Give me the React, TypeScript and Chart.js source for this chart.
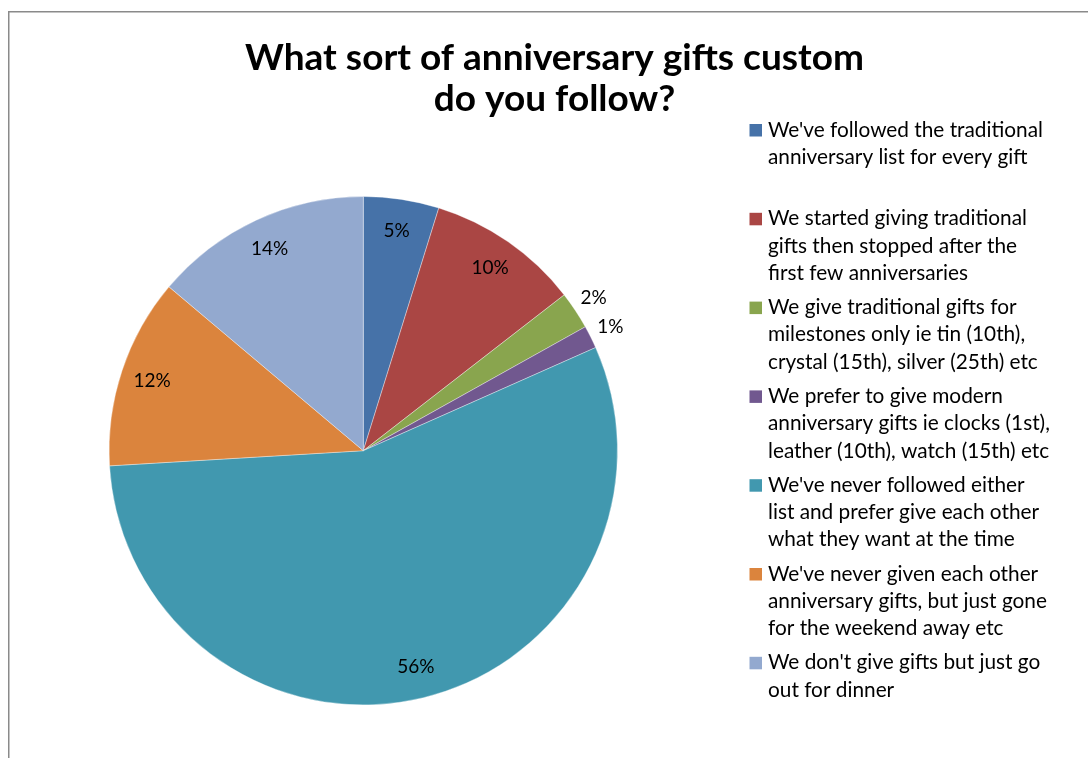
import React, { useEffect, useRef } from "react";
import { Chart, registerables } from "chart.js";

Chart.register(...registerables);

const titleLines = ["What sort of anniversary gifts custom", "do you follow?"];

const categories = [
  "We've followed the traditional\nanniversary list for every gift",
  "We started giving traditional\ngifts then stopped after the\nfirst few anniversaries",
  "We give traditional gifts for\nmilestones only ie tin (10th),\ncrystal (15th), silver (25th) etc",
  "We prefer to give modern\nanniversary gifts ie clocks (1st),\nleather (10th), watch (15th) etc",
  "We've never followed either\nlist and prefer give each other\nwhat they want at the time",
  "We've never given each other\nanniversary gifts, but just gone\nfor the weekend away etc",
  "We don't give gifts but just go\nout for dinner",
];

const shares = [4.8, 9.7, 2.4, 1.45, 55.7, 12.1, 13.85];

const sliceColors = [
  "#4672A8",
  "#AA4644",
  "#89A54E",
  "#71588F",
  "#4198AF",
  "#DB843D",
  "#93A9CF",
];

const FONT = "Lato, 'Open Sans', sans-serif";

const decorPlugin = {
  id: "decor",
  beforeDraw(chart: any) {
    const ctx = chart.ctx;
    ctx.save();
    ctx.fillStyle = "#ffffff";
    ctx.fillRect(0, 0, chart.width, chart.height);
    ctx.strokeStyle = "#8a8a8a";
    ctx.lineWidth = 1.5;
    ctx.strokeRect(8.75, 11.75, 3000, 3000);
    ctx.restore();
  },
  afterDraw(chart: any) {
    const ctx = chart.ctx;
    ctx.save();
    // title
    ctx.fillStyle = "#000";
    ctx.textAlign = "center";
    ctx.textBaseline = "alphabetic";
    ctx.font = `bold 37px ${FONT}`;
    titleLines.forEach((t, i) => ctx.fillText(t, 554.5, 69.5 + i * 41));

    // legend
    ctx.textAlign = "left";
    ctx.font = `20.8px ${FONT}`;
    categories.forEach((cat, i) => {
      const base = 136.5 + i * 88.8;
      ctx.fillStyle = sliceColors[i];
      ctx.fillRect(749.5, base - 12.5, 12.5, 12.5);
      ctx.fillStyle = "#000";
      cat.split("\n").forEach((line, j) => {
        ctx.fillText(line, 768, base + j * 27.3);
      });
    });
    ctx.restore();
  },
  afterDatasetsDraw(chart: any) {
    const ctx = chart.ctx;
    const meta = chart.getDatasetMeta(0);
    ctx.save();
    ctx.fillStyle = "#000";
    ctx.font = `19px ${FONT}`;
    ctx.textAlign = "center";
    ctx.textBaseline = "middle";
    meta.data.forEach((arc: any, i: number) => {
      const p = arc.getProps(["x", "y", "startAngle", "endAngle", "outerRadius"], true);
      const mid = (p.startAngle + p.endAngle) / 2;
      const v = shares[i];
      const r = v < 3 ? p.outerRadius + 22 : p.outerRadius * 0.875;
      ctx.fillText(`${Math.round(v)}%`, p.x + Math.cos(mid) * r, p.y + Math.sin(mid) * r);
    });
    ctx.restore();
  },
};

export default function App() {
  const ref = useRef<HTMLCanvasElement>(null);
  useEffect(() => {
    if (!ref.current) return;
    const chart = new Chart(ref.current, {
      type: "pie",
      data: {
        labels: categories,
        datasets: [
          {
            data: shares,
            backgroundColor: sliceColors,
            borderColor: "rgba(255,255,255,0.6)",
            borderWidth: 0.6,
          },
        ],
      },
      options: {
        responsive: false,
        animation: false,
        layout: {
          padding: { left: 108.8, top: 196.2, right: 1088 - 617.8, bottom: 758 - 705.2 },
        },
        plugins: {
          legend: { display: false },
          title: { display: false },
          tooltip: { enabled: false },
        },
      },
      plugins: [decorPlugin],
    });
    return () => chart.destroy();
  }, []);
  return (
    <div style={{ position: "fixed", left: 0, top: 0, width: 1088, height: 758, background: "#fff" }}>
      <canvas ref={ref} width={1088} height={758} style={{ width: 1088, height: 758, display: "block" }} />
    </div>
  );
}
